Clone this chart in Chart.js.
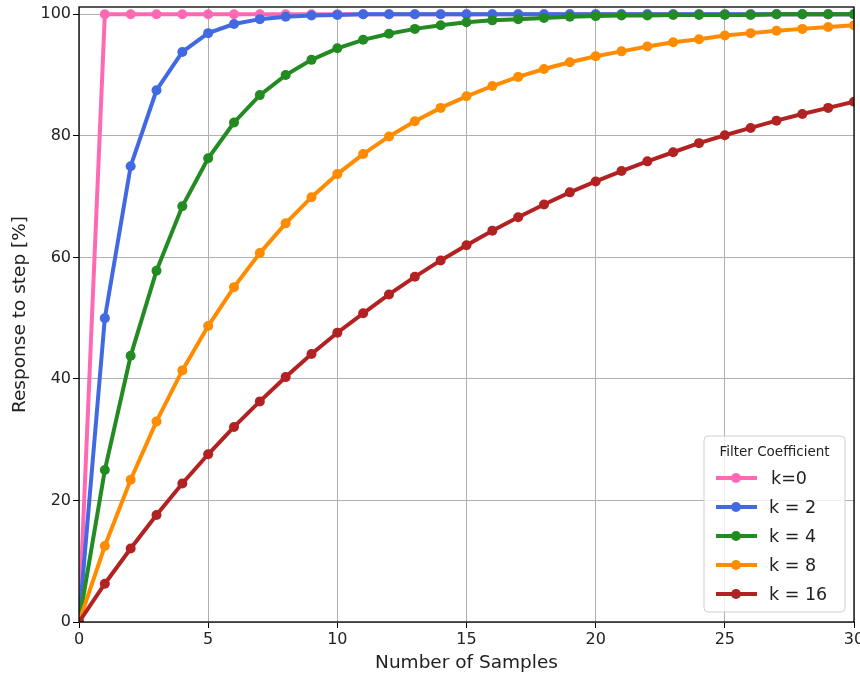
<!DOCTYPE html>
<html>
<head>
<meta charset="utf-8">
<script src="https://cdn.jsdelivr.net/npm/chart.js@4.4.0/dist/chart.umd.min.js"></script>
<style>
html, body { margin: 0; padding: 0; background: #fff; }
#wrap { width: 860px; height: 677px; }
</style>
</head>
<body>
<div id="wrap"><canvas id="chart"></canvas></div>
<script>
const samples = [0, 1, 2, 3, 4, 5, 6, 7, 8, 9, 10, 11, 12, 13, 14, 15, 16, 17, 18, 19, 20, 21, 22, 23, 24, 25, 26, 27, 28, 29, 30];
const k0 = [0, 100, 100, 100, 100, 100, 100, 100, 100, 100, 100, 100, 100, 100, 100, 100, 100, 100, 100, 100, 100, 100, 100, 100, 100, 100, 100, 100, 100, 100, 100];
const k2 = [0, 50, 75, 87.5, 93.8, 96.9, 98.4, 99.2, 99.6, 99.8, 99.9, 100, 100, 100, 100, 100, 100, 100, 100, 100, 100, 100, 100, 100, 100, 100, 100, 100, 100, 100, 100];
const k4 = [0, 25, 43.8, 57.8, 68.4, 76.3, 82.2, 86.7, 90.0, 92.5, 94.4, 95.8, 96.8, 97.6, 98.2, 98.7, 99.0, 99.2, 99.4, 99.6, 99.7, 99.8, 99.8, 99.9, 99.9, 99.9, 99.9, 100, 100, 100, 100];
const k8 = [0, 12.5, 23.4, 33.0, 41.4, 48.7, 55.1, 60.7, 65.6, 69.9, 73.7, 77.0, 79.9, 82.4, 84.6, 86.5, 88.2, 89.7, 91.0, 92.1, 93.1, 93.9, 94.7, 95.4, 95.9, 96.5, 96.9, 97.3, 97.6, 97.9, 98.2];
const k16 = [0, 6.3, 12.1, 17.6, 22.8, 27.6, 32.1, 36.3, 40.3, 44.1, 47.6, 50.8, 53.9, 56.8, 59.5, 62.0, 64.4, 66.6, 68.7, 70.7, 72.5, 74.2, 75.8, 77.3, 78.8, 80.1, 81.3, 82.5, 83.6, 84.6, 85.6];
const seriesLabels = ['k=0', 'k = 2', 'k = 4', 'k = 8', 'k = 16'];
const seriesColors = ['#ff69b4', '#4169e1', '#228b22', '#ff8c00', '#b22222'];
const xTicks = [0, 5, 10, 15, 20, 25, 30];
const yTicks = [0, 20, 40, 60, 80, 100];

const FONT = "'DejaVu Sans', sans-serif";
const allSeries = [k0, k2, k4, k8, k16];

const datasets = allSeries.map((vals, i) => ({
    label: seriesLabels[i],
    data: samples.map((s, j) => ({ x: s, y: vals[j] })),
    borderColor: seriesColors[i],
    backgroundColor: seriesColors[i],
    borderWidth: 4,
    pointRadius: 5,
    pointHoverRadius: 5,
    pointBorderWidth: 0,
    tension: 0,
    fill: false,
    order: allSeries.length - i
}));

// frame around the plot (like matplotlib spines)
const framePlugin = {
    id: 'frame',
    afterDatasetsDraw(chart) {
        const { ctx, chartArea: a } = chart;
        ctx.save();
        ctx.strokeStyle = '#000';
        ctx.lineWidth = 1.3;
        ctx.strokeRect(a.left, a.top, a.right - a.left, a.bottom - a.top);
        ctx.restore();
    }
};

// legend box inside the plot, bottom right
const legendPlugin = {
    id: 'boxLegend',
    afterDraw(chart) {
        const ctx = chart.ctx;
        const x0 = 704, y0 = 436, w = 141, h = 176;
        ctx.save();
        ctx.beginPath();
        ctx.roundRect(x0, y0, w, h, 4);
        ctx.fillStyle = 'rgba(255,255,255,0.8)';
        ctx.fill();
        ctx.strokeStyle = '#d0d0d0';
        ctx.lineWidth = 1;
        ctx.stroke();

        ctx.fillStyle = '#222';
        ctx.font = '13.5px ' + FONT;
        ctx.textAlign = 'center';
        ctx.textBaseline = 'middle';
        ctx.fillText('Filter Coefficient', x0 + w / 2, 452);

        ctx.textAlign = 'left';
        ctx.font = '17.5px ' + FONT;
        seriesLabels.forEach((lab, i) => {
            const y = 478 + i * 29;
            ctx.strokeStyle = seriesColors[i];
            ctx.lineWidth = 4;
            ctx.beginPath();
            ctx.moveTo(716, y);
            ctx.lineTo(757, y);
            ctx.stroke();
            ctx.fillStyle = seriesColors[i];
            ctx.beginPath();
            ctx.arc(736, y, 5, 0, Math.PI * 2);
            ctx.fill();
            ctx.fillStyle = '#222';
            ctx.fillText(lab, i === 0 ? 771 : 769, y + 1);
        });
        ctx.restore();
    }
};

new Chart(document.getElementById('chart'), {
    type: 'line',
    data: { datasets: datasets },
    plugins: [framePlugin, legendPlugin],
    options: {
        responsive: true,
        maintainAspectRatio: false,
        animation: false,
        layout: { padding: { top: 7, right: 6, left: 0, bottom: 0 } },
        plugins: {
            legend: { display: false },
            tooltip: { enabled: false }
        },
        scales: {
            x: {
                type: 'linear',
                min: 0,
                max: 30,
                afterBuildTicks: (scale) => { scale.ticks = xTicks.map(v => ({ value: v })); },
                afterFit: (scale) => { scale.height = 55; scale.paddingLeft = 0; scale.paddingRight = 0; },
                grid: { color: '#b0b0b0', lineWidth: 1, tickLength: 6, tickColor: '#000' },
                border: { display: false },
                ticks: { color: '#222', font: { family: FONT, size: 16 }, padding: 2, maxRotation: 0 },
                title: { display: true, text: 'Number of Samples', color: '#222', font: { family: FONT, size: 18.5 }, padding: { top: 0, bottom: 3 } }
            },
            y: {
                min: 0,
                max: 101.2,
                afterBuildTicks: (scale) => { scale.ticks = yTicks.map(v => ({ value: v })); },
                afterFit: (scale) => { scale.width = 79; scale.paddingTop = 0; scale.paddingBottom = 0; },
                grid: { color: '#b0b0b0', lineWidth: 1, tickLength: 6, tickColor: '#000' },
                border: { display: false },
                ticks: { color: '#222', font: { family: FONT, size: 16 }, padding: 2 },
                title: { display: true, text: 'Response to step [%]', color: '#222', font: { family: FONT, size: 18.5 }, padding: { top: 9, bottom: 0 } }
            }
        }
    }
});
</script>
</body>
</html>
